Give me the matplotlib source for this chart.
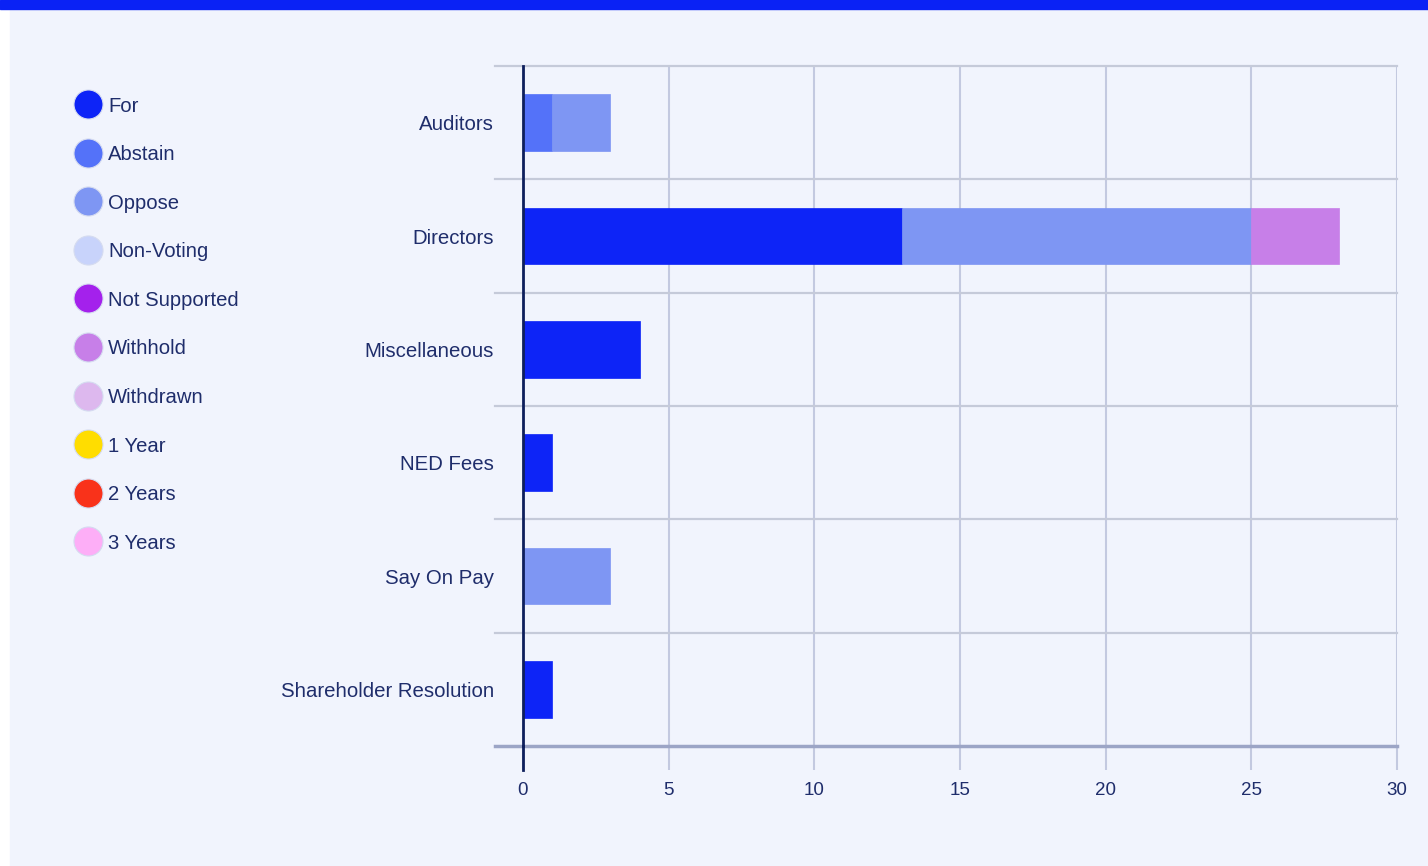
import matplotlib.pyplot as plt
import numpy as np
from matplotlib.patches import Rectangle

plt.rcParams['font.family'] = ['Liberation Sans', 'DejaVu Sans']

# data
categories = ["Auditors", "Directors", "Miscellaneous", "NED Fees", "Say On Pay", "Shareholder Resolution"]
series_names = ["For", "Abstain", "Oppose", "Non-Voting", "Not Supported", "Withhold",
                "Withdrawn", "1 Year", "2 Years", "3 Years"]
series_colors = ["#0D24F7", "#5472F9", "#7E96F3", "#C8D3FB", "#A421EC", "#C77FE8",
                 "#DDB8EE", "#FFDD00", "#F9321A", "#FDAEF7"]
values = {
    "For":           [0, 13, 4, 1, 0, 1],
    "Abstain":       [1, 0, 0, 0, 0, 0],
    "Oppose":        [2, 12, 0, 0, 3, 0],
    "Non-Voting":    [0, 0, 0, 0, 0, 0],
    "Not Supported": [0, 0, 0, 0, 0, 0],
    "Withhold":      [0, 3, 0, 0, 0, 0],
    "Withdrawn":     [0, 0, 0, 0, 0, 0],
    "1 Year":        [0, 0, 0, 0, 0, 0],
    "2 Years":       [0, 0, 0, 0, 0, 0],
    "3 Years":       [0, 0, 0, 0, 0, 0],
}
x_ticks = [0, 5, 10, 15, 20, 25, 30]

W, H = 1428, 866
text_col = "#1F2D6B"
grid_col = "#C3C9E0"
bg = "#F1F4FD"

fig = plt.figure(figsize=(W / 100, H / 100), dpi=100, facecolor="white")

# background panel and top band
fig.add_artist(Rectangle((10 / W, 0), 1 - 10 / W, 1, transform=fig.transFigure, color=bg, zorder=0))
fig.add_artist(Rectangle((0, 1 - 9 / H), 1, 9 / H, transform=fig.transFigure, color="#0A22F5", zorder=1))

ax = fig.add_axes([523 / W, 1 - 746 / H, (1397 - 523) / W, (746 - 66) / H])
ax.set_facecolor("none")

y = np.arange(len(categories))
left = np.zeros(len(categories))
for name, col in zip(series_names, series_colors):
    v = np.array(values[name], dtype=float)
    m = v > 0
    if m.any():
        ax.barh(y[m], v[m], left=left[m], height=0.5, color=col, edgecolor=col,
                linewidth=0.5, zorder=3)
    left += v

ax.set_xlim(0, 30)
ax.set_ylim(len(categories) - 0.5, -0.5)
ax.set_xticks(x_ticks)
ax.set_xticklabels([str(t) for t in x_ticks])
ax.set_yticks(y)
ax.set_yticklabels(categories)
ax.tick_params(axis="y", length=0, pad=21, labelsize=14.7, labelcolor=text_col)
ax.tick_params(axis="x", length=17, width=1.5, color=grid_col, pad=9, labelsize=13.5, labelcolor=text_col)
for s in ax.spines.values():
    s.set_visible(False)

ax.grid(axis="x", color=grid_col, linewidth=1.5, zorder=1)

# category separators, extending left of the axis
x0 = -28 / ((1397 - 523) / 30)
for i in range(len(categories) + 1):
    yy = i - 0.5
    if i == len(categories):
        ax.plot([x0, 30], [yy, yy], color="#9CA5C6", linewidth=2.5, clip_on=False, zorder=2)
    else:
        ax.plot([x0, 30], [yy, yy], color="#C5CAD9", linewidth=1.6, clip_on=False, zorder=2)

# zero line
ax.plot([0, 0], [-0.5, len(categories) - 0.5], color="#0E1F5C", linewidth=2, zorder=4, clip_on=False)
ax.plot([0, 0], [len(categories) - 0.5, len(categories) - 0.5 + 24 / 113.3], color="#0E1F5C",
        linewidth=2, zorder=4, clip_on=False)

# legend
lax = fig.add_axes([0, 0, 1, 1])
lax.set_xlim(0, W)
lax.set_ylim(H, 0)
lax.axis("off")
for i, (name, col) in enumerate(zip(series_names, series_colors)):
    yy = 104 + i * 48.6
    lax.scatter([88], [yy], s=29 ** 2 * 0.52, color=col, edgecolor="#D5DBF0", linewidth=0.8)
    lax.text(108, yy + 2, name, fontsize=14.6, color=text_col, va="center", ha="left")

fig.savefig("out.png", dpi=100, facecolor="white")
